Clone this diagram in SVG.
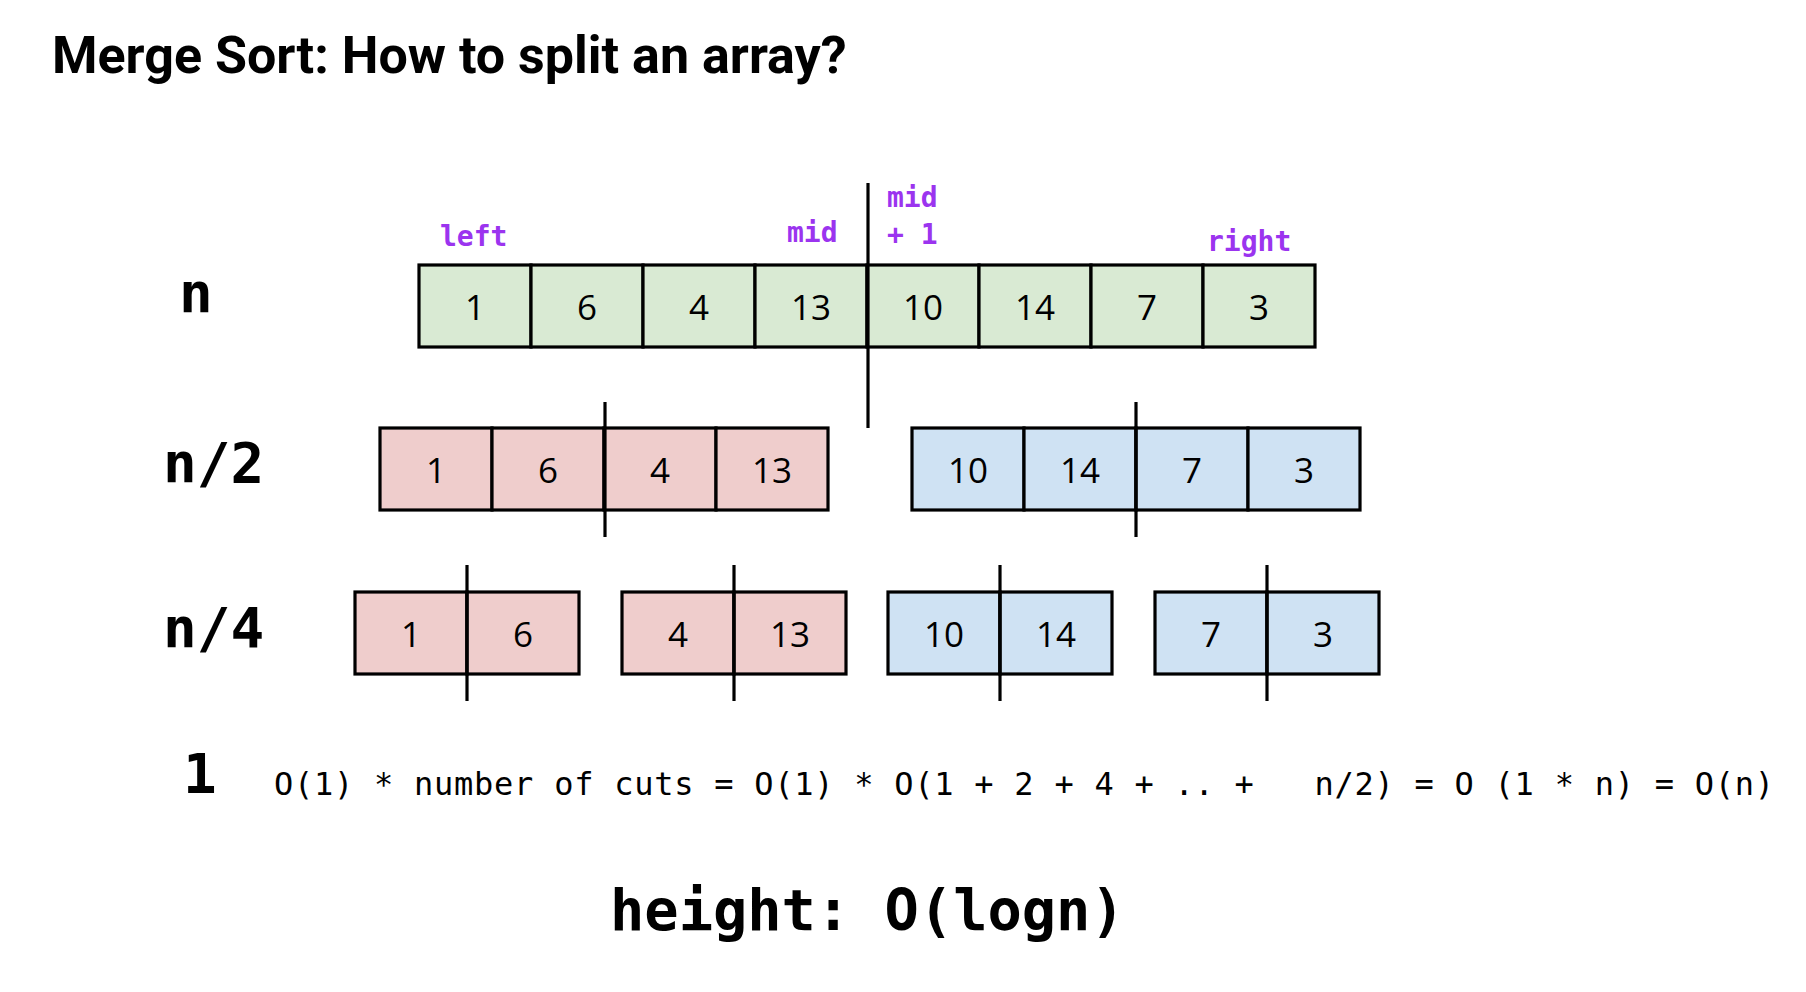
<svg xmlns="http://www.w3.org/2000/svg" width="1806" height="992" viewBox="0 0 1806 992">
<style>
.title{font-family:Roboto,"Liberation Sans",sans-serif;font-weight:700;font-size:52px;fill:#000}
.cell{stroke:#000;stroke-width:3.2}
.g{fill:#d9ead3}.r{fill:#efcdcc}.b{fill:#cfe2f3}
.num{font-family:"Open Sans","Noto Sans",sans-serif;font-size:35px;fill:#000;text-anchor:middle}
.ptr{font-family:"DejaVu Sans Mono",monospace;font-weight:700;font-size:28px;fill:#9b34ef}
.lvl{font-family:"DejaVu Sans Mono",monospace;font-weight:700;font-size:56px;fill:#000}
.eq{font-family:"DejaVu Sans Mono",monospace;font-size:32px;fill:#000;white-space:pre}
.h{font-family:"DejaVu Sans Mono",monospace;font-weight:700;font-size:57px;fill:#000;white-space:pre}
.cut{stroke:#000;stroke-width:3.2;fill:none}
</style>
<rect width="1806" height="992" fill="#fff"/>
<text class="title" x="52" y="73">Merge Sort: How to split an array?</text>

<g id="labels">
<text class="ptr" x="440" y="246">left</text>
<text class="ptr" x="787" y="242">mid</text>
<text class="ptr" x="887" y="207">mid</text>
<text class="ptr" x="887" y="244" style="white-space:pre">+ 1</text>
<text class="ptr" x="1207" y="251">right</text>
<text class="lvl" x="179" y="312">n</text>
<text class="lvl" x="163" y="482">n/2</text>
<text class="lvl" x="163" y="647">n/4</text>
<text class="lvl" x="183" y="793">1</text>
</g>

<g id="array-n">
<rect class="cell g" x="419" y="265" width="112" height="82"/>
<rect class="cell g" x="531" y="265" width="112" height="82"/>
<rect class="cell g" x="643" y="265" width="112" height="82"/>
<rect class="cell g" x="755" y="265" width="112" height="82"/>
<rect class="cell g" x="867" y="265" width="112" height="82"/>
<rect class="cell g" x="979" y="265" width="112" height="82"/>
<rect class="cell g" x="1091" y="265" width="112" height="82"/>
<rect class="cell g" x="1203" y="265" width="112" height="82"/>
<text class="num" x="475" y="320">1</text>
<text class="num" x="587" y="320">6</text>
<text class="num" x="699" y="320">4</text>
<text class="num" x="811" y="320">13</text>
<text class="num" x="923" y="320">10</text>
<text class="num" x="1035" y="320">14</text>
<text class="num" x="1147" y="320">7</text>
<text class="num" x="1259" y="320">3</text>
</g>

<g id="array-left-half">
<rect class="cell r" x="380" y="428" width="112" height="82"/>
<rect class="cell r" x="492" y="428" width="112" height="82"/>
<rect class="cell r" x="604" y="428" width="112" height="82"/>
<rect class="cell r" x="716" y="428" width="112" height="82"/>
<text class="num" x="436" y="483">1</text>
<text class="num" x="548" y="483">6</text>
<text class="num" x="660" y="483">4</text>
<text class="num" x="772" y="483">13</text>
</g>

<g id="array-right-half">
<rect class="cell b" x="912" y="428" width="112" height="82"/>
<rect class="cell b" x="1024" y="428" width="112" height="82"/>
<rect class="cell b" x="1136" y="428" width="112" height="82"/>
<rect class="cell b" x="1248" y="428" width="112" height="82"/>
<text class="num" x="968" y="483">10</text>
<text class="num" x="1080" y="483">14</text>
<text class="num" x="1192" y="483">7</text>
<text class="num" x="1304" y="483">3</text>
</g>

<g id="array-q1">
<rect class="cell r" x="355" y="592" width="112" height="82"/>
<rect class="cell r" x="467" y="592" width="112" height="82"/>
<text class="num" x="411" y="647">1</text>
<text class="num" x="523" y="647">6</text>
</g>
<g id="array-q2">
<rect class="cell r" x="622" y="592" width="112" height="82"/>
<rect class="cell r" x="734" y="592" width="112" height="82"/>
<text class="num" x="678" y="647">4</text>
<text class="num" x="790" y="647">13</text>
</g>
<g id="array-q3">
<rect class="cell b" x="888" y="592" width="112" height="82"/>
<rect class="cell b" x="1000" y="592" width="112" height="82"/>
<text class="num" x="944" y="647">10</text>
<text class="num" x="1056" y="647">14</text>
</g>
<g id="array-q4">
<rect class="cell b" x="1155" y="592" width="112" height="82"/>
<rect class="cell b" x="1267" y="592" width="112" height="82"/>
<text class="num" x="1211" y="647">7</text>
<text class="num" x="1323" y="647">3</text>
</g>

<g id="connectors">
<line class="cut" x1="868" y1="183" x2="868" y2="428"/>
<line class="cut" x1="605" y1="402" x2="605" y2="537"/>
<line class="cut" x1="1136" y1="402" x2="1136" y2="537"/>
<line class="cut" x1="467" y1="565" x2="467" y2="701"/>
<line class="cut" x1="734" y1="565" x2="734" y2="701"/>
<line class="cut" x1="1000" y1="565" x2="1000" y2="701"/>
<line class="cut" x1="1267" y1="565" x2="1267" y2="701"/>
</g>

<g id="formula">
<text class="eq" x="274" y="795" textLength="1500" lengthAdjust="spacing">O(1) * number of cuts = O(1) * O(1 + 2 + 4 + .. +   n/2) = O (1 * n) = O(n)</text>
<text class="h" x="610" y="930">height: O(logn)</text>
</g>
</svg>
